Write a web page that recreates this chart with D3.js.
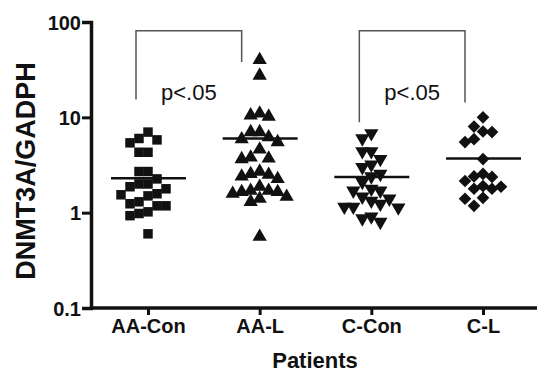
<!DOCTYPE html>
<html lang="en">
<head>
    <title>DNMT3A/GADPH by patient group</title>
    <script src="https://d3js.org/d3.v7.min.js"></script>
    <style>
        body { margin: 0; background: #fff; }
        text { font-family: "Liberation Sans", Arial, sans-serif; font-weight: bold; fill: #111; }
    </style>
</head>
<body>
    <div id="chart"></div>
    <script>

        // groups on the x axis
        const groups = ["AA-Con", "AA-L", "C-Con", "C-L"];

        // values, one list per group
        const aaCon = [7.0, 6.0, 5.4, 5.8, 4.3, 4.3, 2.7, 2.7, 2.0, 2.0, 2.26, 1.87, 1.78,
                       1.58, 1.5, 1.3, 1.54, 1.24, 1.18, 1.18, 0.98, 1.02, 0.93, 0.6];
        const aaL = [40, 27.4, 10.5, 10.2, 11, 7.0, 7.0, 6.2, 5.5, 5.9, 4.6, 3.7, 3.65, 3.8,
                     2.5, 2.7, 2.55, 2.4, 2.26, 1.87, 1.7, 1.58, 1.4, 1.7, 1.65, 1.65, 1.47, 1.3, 0.56];
        const cCon = [6.8, 6.0, 4.4, 4.4, 3.2, 3.65, 3.0, 2.55, 2.4, 2.1, 1.7, 1.7, 1.78,
                      1.47, 1.33, 1.4, 1.24, 1.15, 1.13, 1.15, 0.91, 0.8, 0.87];
        const cL = [10, 8.0, 7.0, 7.1, 5.9, 5.5, 3.65, 2.37, 2.55, 2.4, 2.15, 1.9, 1.78,
                    1.87, 1.78, 1.43, 1.4, 1.18];
        const series = [aaCon, aaL, cCon, cL];

        // line drawn across each group (median)
        const medians = [2.3, 6.0, 2.37, 3.7];

        // y ticks
        const yTicks = [0.1, 1, 10, 100];
        const yTickLabels = ["0.1", "1", "10", "100"];

        // significance brackets: from group, to group, leg ends, top, label
        const brackets = [
            { from: "AA-Con", to: "AA-L", leftEnd: 15.4, rightEnd: 38, top: 81, label: "p<.05" },
            { from: "C-Con", to: "C-L", leftEnd: 8.9, rightEnd: 14.3, top: 81, label: "p<.05" }
        ];

        const width = 537, height = 375;
        const margin = { top: 22, right: 0, bottom: 67, left: 91 };

        const svg = d3.select("#chart")
            .append("svg")
            .attr("width", width)
            .attr("height", height);

        const x = d3.scalePoint()
            .domain(groups)
            .range([148, 483]);

        const y = d3.scaleLog()
            .domain([0.1, 100])
            .range([height - margin.bottom, margin.top]);

        // symbol for each group
        const shapes = [
            d3.symbol().type(d3.symbolSquare).size(90),
            d3.symbol().type(d3.symbolTriangle).size(88),
            d3.symbol().type(d3.symbolTriangle).size(88),
            d3.symbol().type(d3.symbolSquare).size(80)
        ];
        const rotations = [0, 0, 180, 45];

        // simple column-scatter layout: put each point in the nearest free column
        const step = 9;
        const swarm = (vals) => {
            const placed = [];
            vals.slice().sort((a, b) => b - a).forEach(v => {
                const py = y(v);
                for (let k = 0; k < 20; k++) {
                    const off = k === 0 ? 0 : (k % 2 ? -1 : 1) * Math.ceil(k / 2) * step;
                    const hit = placed.some(p => Math.abs(p.off - off) < step && Math.abs(p.py - py) < 11);
                    if (!hit) { placed.push({ v, py, off }); break; }
                }
            });
            return placed;
        };

        // axes
        const yAxis = svg.append("g")
            .attr("transform", `translate(${margin.left},0)`)
            .call(d3.axisLeft(y).tickValues(yTicks).tickFormat((d, i) => yTickLabels[i]).tickSize(9).tickPadding(1));

        const xAxis = svg.append("g")
            .attr("transform", `translate(0,${y(0.1)})`)
            .call(d3.axisBottom(x).tickSize(7).tickPadding(4));

        xAxis.select(".domain").attr("d", `M${margin.left},0H${width}`);

        [yAxis, xAxis].forEach(a => {
            a.select(".domain").attr("stroke", "#111").attr("stroke-width", 3.5);
            a.selectAll(".tick line").attr("stroke", "#111").attr("stroke-width", 3);
            a.selectAll(".tick text").style("font-size", "20px").attr("fill", "#111");
        });
        yAxis.selectAll(".tick text").attr("dy", "0.36em");

        // points
        series.forEach((vals, gi) => {
            svg.append("g")
                .selectAll("path")
                .data(swarm(vals))
                .enter()
                    .append("path")
                    .attr("d", shapes[gi])
                    .attr("transform", d => `translate(${x(groups[gi]) + d.off},${d.py}) rotate(${rotations[gi]})`)
                    .attr("fill", "#111");
        });

        // median lines
        svg.append("g")
            .selectAll("line")
            .data(medians)
            .enter()
                .append("line")
                .attr("x1", (d, i) => x(groups[i]) - 37)
                .attr("x2", (d, i) => x(groups[i]) + 38)
                .attr("y1", d => y(d))
                .attr("y2", d => y(d))
                .attr("stroke", "#111")
                .attr("stroke-width", 2.5);

        // brackets
        const bx1 = d => x(d.from) - 12;
        const bx2 = d => x(d.to) - 18;
        const br = svg.append("g").selectAll("g").data(brackets).enter().append("g");
        br.append("path")
            .attr("d", d => `M${bx1(d)},${y(d.leftEnd)}V${y(d.top)}H${bx2(d)}V${y(d.rightEnd)}`)
            .attr("fill", "none")
            .attr("stroke", "#555")
            .attr("stroke-width", 1.5);
        br.append("text")
            .attr("x", d => (bx1(d) + bx2(d)) / 2)
            .attr("y", 100)
            .attr("text-anchor", "middle")
            .style("font-size", "22px")
            .style("font-weight", "normal")
            .text(d => d.label);

        // axis titles
        svg.append("text")
            .attr("transform", `translate(35,${(y(0.1) + y(100)) / 2 + 6}) rotate(-90)`)
            .attr("text-anchor", "middle")
            .style("font-size", "27px")
            .text("DNMT3A/GADPH");

        svg.append("text")
            .attr("x", 315)
            .attr("y", 368)
            .attr("text-anchor", "middle")
            .style("font-size", "22px")
            .text("Patients");

    </script>
</body>
</html>
